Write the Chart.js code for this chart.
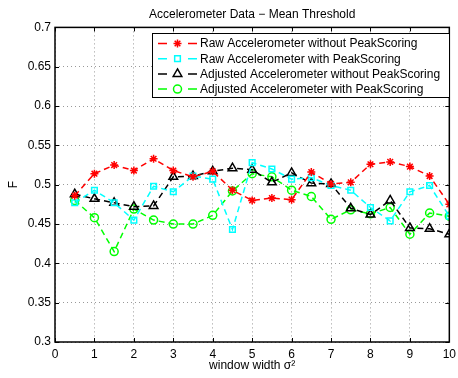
<!DOCTYPE html>
<html>
<head>
<meta charset="utf-8">
<script src="https://cdn.jsdelivr.net/npm/chart.js@4"></script>
<style>
  body { margin: 0; background: #fff; }
  #wrap { width: 458px; height: 378px; overflow: hidden; }
</style>
</head>
<body>
<!-- canvas um pouco mais largo: o "10" do eixo fica cortado na borda, como no original -->
<div id="wrap"><canvas id="grafico" width="461" height="378"></canvas></div>
<script>
// window widths (sigma^2)
const larguras = [0.5, 1, 1.5, 2, 2.5, 3, 3.5, 4, 4.5, 5, 5.5, 6, 6.5, 7, 7.5, 8, 8.5, 9, 9.5, 10];

const rawSemPeak = [0.486, 0.514, 0.525, 0.518, 0.533, 0.518, 0.510, 0.517, 0.493, 0.480,
                    0.483, 0.481, 0.516, 0.501, 0.503, 0.526, 0.529, 0.523, 0.511, 0.475];
const rawComPeak = [0.477, 0.493, 0.477, 0.455, 0.498, 0.491, 0.511, 0.507, 0.443, 0.528,
                    0.520, 0.507, 0.509, 0.499, 0.493, 0.471, 0.454, 0.491, 0.499, 0.460];
const ajustSemPeak = [0.488, 0.482, 0.477, 0.472, 0.473, 0.510, 0.511, 0.517, 0.521, 0.519,
                      0.503, 0.515, 0.502, 0.501, 0.470, 0.462, 0.480, 0.445, 0.444, 0.437];
const ajustComPeak = [0.480, 0.458, 0.415, 0.469, 0.455, 0.450, 0.450, 0.461, 0.492, 0.514,
                      0.510, 0.493, 0.485, 0.456, 0.468, 0.463, 0.471, 0.437, 0.464, 0.460];

const nomesSeries = [
  'Raw Accelerometer without PeakScoring',
  'Raw Accelerometer with PeakScoring',
  'Adjusted Accelerometer without PeakScoring',
  'Adjusted Accelerometer with PeakScoring'
];

const ticksX = [0, 1, 2, 3, 4, 5, 6, 7, 8, 9, 10];
const ticksY = [0.3, 0.35, 0.4, 0.45, 0.5, 0.55, 0.6, 0.65, 0.7];

Chart.defaults.font.family = '"Liberation Sans", Arial, Helvetica, sans-serif';
Chart.defaults.font.size = 12;
Chart.defaults.color = '#000';

function serie(nome, valores, cor, estilo, raio) {
  return {
    label: nome,
    data: larguras.map((x, i) => ({ x: x, y: valores[i] })),
    borderColor: cor,
    backgroundColor: cor,
    borderWidth: 1.5,
    borderDash: [6, 4],
    pointStyle: estilo,
    pointRadius: raio,
    pointBorderWidth: 1.5,
    pointBorderColor: cor,
    pointBackgroundColor: 'rgba(0,0,0,0)',
    fill: false,
    tension: 0
  };
}

// moldura, marcas internas e legenda estilo MATLAB
const molduraPlugin = {
  id: 'moldura',
  beforeDatasetsDraw(chart) {
    const ctx = chart.ctx;
    const a = chart.chartArea;
    const sx = chart.scales.x, sy = chart.scales.y;
    ctx.save();
    ctx.strokeStyle = '#000';
    ctx.lineWidth = 1;
    ctx.setLineDash([]);
    ctx.beginPath();
    ticksX.forEach(v => {
      const px = Math.round(sx.getPixelForValue(v)) + 0.5;
      ctx.moveTo(px, a.bottom); ctx.lineTo(px, a.bottom - 4);
      ctx.moveTo(px, a.top); ctx.lineTo(px, a.top + 4);
    });
    ticksY.forEach(v => {
      const py = Math.round(sy.getPixelForValue(v)) + 0.5;
      ctx.moveTo(a.left, py); ctx.lineTo(a.left + 4, py);
      ctx.moveTo(a.right, py); ctx.lineTo(a.right - 4, py);
    });
    ctx.stroke();
    ctx.restore();
  },
  afterDatasetsDraw(chart) {
    const ctx = chart.ctx;
    const a = chart.chartArea;
    ctx.save();
    ctx.strokeStyle = '#000';
    ctx.lineWidth = 1.5;
    ctx.setLineDash([]);
    ctx.strokeRect(a.left, a.top, a.right - a.left, a.bottom - a.top);

    // legenda
    const bx = 152, by = 33, bw = 297, bh = 64;
    ctx.fillStyle = '#fff';
    ctx.fillRect(bx, by, bw, bh);
    ctx.lineWidth = 1;
    ctx.strokeRect(bx + 0.5, by + 0.5, bw, bh);
    ctx.font = '12px "Liberation Sans", Arial, sans-serif';
    ctx.textBaseline = 'middle';
    chart.data.datasets.forEach((ds, i) => {
      const y = by + 10.5 + i * 15.2;
      ctx.strokeStyle = ds.borderColor;
      ctx.lineWidth = 1.5;
      ctx.beginPath();
      ctx.moveTo(158, y); ctx.lineTo(167, y);
      ctx.moveTo(188, y); ctx.lineTo(197, y);
      ctx.stroke();
      ctx.fillStyle = 'rgba(0,0,0,0)';
      Chart.helpers.drawPoint(ctx, {
        pointStyle: ds.pointStyle, radius: ds.pointRadius, borderWidth: 1.5, rotation: 0
      }, 177.5, y);
      ctx.fillStyle = '#000';
      ctx.fillText(ds.label, 200, y + 0.5);
    });
    ctx.restore();
  }
};

new Chart(document.getElementById('grafico'), {
  type: 'line',
  data: {
    datasets: [
      serie(nomesSeries[0], rawSemPeak, '#ff0000', 'star', 4),
      serie(nomesSeries[1], rawComPeak, '#00ffff', 'rect', 4),
      serie(nomesSeries[2], ajustSemPeak, '#000000', 'triangle', 5),
      serie(nomesSeries[3], ajustComPeak, '#00ff00', 'circle', 4)
    ]
  },
  options: {
    responsive: false,
    animation: false,
    layout: { padding: { left: 0, right: 0, top: 0, bottom: 0 } },
    plugins: {
      legend: { display: false },
      tooltip: { enabled: false },
      title: {
        display: true,
        text: 'Accelerometer Data \u2212 Mean Threshold',
        fullSize: false,
        font: { size: 12, weight: 'normal' },
        padding: { top: 7, bottom: 6 }
      }
    },
    scales: {
      x: {
        type: 'linear',
        min: 0,
        max: 10,
        afterBuildTicks(scale) { scale.ticks = ticksX.map(v => ({ value: v })); },
        afterFit(scale) { scale.height = 36; },
        ticks: { padding: 5, maxRotation: 0, autoSkip: false },
        grid: { color: '#999', drawTicks: false, tickLength: 0 },
        border: { display: false, dash: [1, 3] },
        title: { display: true, text: 'window width \u03c3\u00b2', padding: { top: 0, bottom: 5 } }
      },
      y: {
        min: 0.3,
        max: 0.7,
        afterBuildTicks(scale) { scale.ticks = ticksY.map(v => ({ value: v })); },
        afterFit(scale) { scale.width = 55; },
        ticks: {
          padding: 4,
          callback: v => String(parseFloat(v.toFixed(2)))
        },
        grid: { color: '#999', drawTicks: false, tickLength: 0 },
        border: { display: false, dash: [1, 3] },
        title: { display: true, text: 'F', padding: { top: 6, bottom: 0 } }
      }
    }
  },
  plugins: [molduraPlugin]
});
</script>
</body>
</html>
